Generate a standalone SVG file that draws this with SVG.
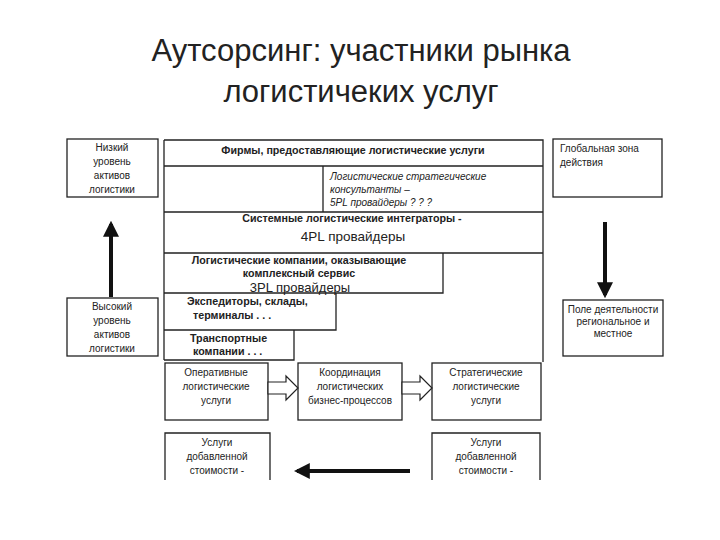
<svg xmlns="http://www.w3.org/2000/svg" width="720" height="540" viewBox="0 0 720 540">
<defs>
<style>
.t{font-family:"Liberation Sans",Arial,sans-serif;fill:#222}
.title{font-size:31px;text-anchor:middle}
.s{font-size:10px}
.b{font-weight:bold;font-size:10.7px}
.c{text-anchor:middle}
.i{font-style:italic}
.box{fill:none;stroke:#222;stroke-width:1.3}
.ln{stroke:#222;stroke-width:1.3;fill:none}
</style>
<marker id="ah" viewBox="0 0 10 10" refX="8" refY="5" markerWidth="4" markerHeight="4" orient="auto"><path d="M0,0 L10,5 L0,10 z" fill="#111"/></marker>
</defs>
<rect width="720" height="540" fill="#fff"/>
<g id="title">
<text class="t title" x="361" y="61">Аутсорсинг: участники рынка</text>
<text class="t title" x="361" y="102">логистичеких услуг</text>
</g>
<g id="main-frame">
<path class="ln" d="M164,140 H543 V362 M164,140 V360 M164,166 H543 M323,166 V212 M164,212 H543 M164,253 H543"/>
<text class="t s b c" x="353" y="154">Фирмы, предоставляющие логистические услуги</text>
<text class="t s i" x="330" y="180">Логистические стратегические</text>
<text class="t s i" x="330" y="193">консультанты –</text>
<text class="t s i" x="330" y="206">5PL провайдеры ? ? ?</text>
</g>
<g id="integrators">
<text class="t s b c" x="352" y="222">Системные логистические интеграторы -</text>
<text class="t c" x="353" y="241" font-size="13.5">4PL провайдеры</text>
</g>
<g id="3pl">
<path class="ln" d="M443,253 V293 H164"/>
<text class="t s b c" x="299" y="264">Логистические компании, оказывающие</text>
<text class="t s b c" x="299" y="277">комплексный сервис</text>
<text class="t c" x="300" y="292" font-size="13">3PL провайдеры</text>
</g>
<g id="forwarders">
<path class="ln" d="M336,293 V330 H164"/>
<text class="t s b" x="187" y="305">Экспедиторы, склады,</text>
<text class="t s b" x="193" y="319">терминалы . . .</text>
</g>
<g id="transport">
<path class="ln" d="M294,330 V360 H164"/>
<text class="t s b" x="190" y="342">Транспортные</text>
<text class="t s b" x="193" y="355">компании . . .</text>
</g>
<g id="low-assets">
<rect class="box" x="67" y="139" width="91" height="58"/>
<text class="t s c" x="112" y="151">Низкий</text>
<text class="t s c" x="112" y="165">уровень</text>
<text class="t s c" x="112" y="179">активов</text>
<text class="t s c" x="112" y="193">логистики</text>
</g>
<g id="high-assets">
<rect class="box" x="67" y="298" width="91" height="58"/>
<text class="t s c" x="112" y="310">Высокий</text>
<text class="t s c" x="112" y="324">уровень</text>
<text class="t s c" x="112" y="338">активов</text>
<text class="t s c" x="112" y="352">логистики</text>
</g>
<g id="global">
<rect class="box" x="553" y="139" width="109" height="58"/>
<text class="t s" x="560" y="152">Глобальная зона</text>
<text class="t s" x="560" y="166">действия</text>
</g>
<g id="regional">
<rect class="box" x="563" y="300" width="100" height="56"/>
<text class="t s c" x="613" y="313">Поле деятельности</text>
<text class="t s c" x="613" y="325">региональное и</text>
<text class="t s c" x="613" y="337">местное</text>
</g>
<g id="operative">
<rect class="box" x="165" y="363" width="103" height="57"/>
<text class="t s c" x="216" y="376">Оперативные</text>
<text class="t s c" x="216" y="390">логистические</text>
<text class="t s c" x="216" y="404">услуги</text>
</g>
<g id="coordination">
<rect class="box" x="298" y="363" width="104" height="57"/>
<text class="t s c" x="350" y="376">Координация</text>
<text class="t s c" x="350" y="390">логистических</text>
<text class="t s c" x="350" y="404">бизнес-процессов</text>
</g>
<g id="strategic">
<rect class="box" x="432" y="363" width="109" height="57"/>
<text class="t s c" x="486" y="376">Стратегические</text>
<text class="t s c" x="486" y="390">логистические</text>
<text class="t s c" x="486" y="404">услуги</text>
</g>
<g id="vas-left">
<path class="ln" d="M165,480 V433 H270 V480"/>
<text class="t s c" x="217" y="446">Услуги</text>
<text class="t s c" x="217" y="460">добавленной</text>
<text class="t s c" x="217" y="474">стоимости -</text>
</g>
<g id="vas-right">
<path class="ln" d="M432,480 V433 H540 V480"/>
<text class="t s c" x="486" y="446">Услуги</text>
<text class="t s c" x="486" y="460">добавленной</text>
<text class="t s c" x="486" y="474">стоимости -</text>
</g>
<g id="connectors">
<line x1="111" y1="297" x2="111" y2="224" stroke="#111" stroke-width="4" marker-end="url(#ah)"/>
<line x1="605" y1="222" x2="605" y2="295" stroke="#111" stroke-width="4" marker-end="url(#ah)"/>
<line x1="410" y1="471" x2="297" y2="471" stroke="#111" stroke-width="4" marker-end="url(#ah)"/>
<path d="M268,382 H286 V376 L298,388 L286,400 V394 H268 z" fill="#fff" stroke="#222" stroke-width="1.2"/>
<path d="M402,382 H420 V376 L432,388 L420,400 V394 H402 z" fill="#fff" stroke="#222" stroke-width="1.2"/>
</g>
</svg>
